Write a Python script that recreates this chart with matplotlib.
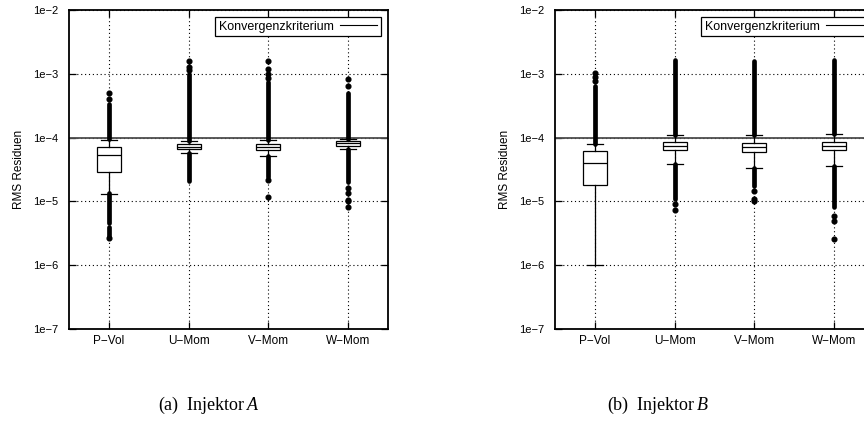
import matplotlib
matplotlib.use('Agg')
import matplotlib.pyplot as plt
from matplotlib.ticker import FixedLocator, FixedFormatter, NullLocator

plt.rcParams['font.family'] = 'Liberation Sans'
plt.rcParams['mathtext.fontset'] = 'custom'
plt.rcParams['mathtext.rm'] = 'Liberation Serif'
plt.rcParams['mathtext.it'] = 'Liberation Serif:italic'

# Daten
labels = ['P\u2212Vol', 'U\u2212Mom', 'V\u2212Mom', 'W\u2212Mom']
ytick_vals = [1e-7, 1e-6, 1e-5, 1e-4, 1e-3, 1e-2]
ytick_labels = ['1e\u22127', '1e\u22126', '1e\u22125', '1e\u22124', '1e\u22123', '1e\u22122']
konvergenz = 1e-4

# Injektor A
a_q1 = [2.93e-5, 6.6e-5, 6.3e-5, 7.3e-5]
a_med = [5.3e-5, 7.2e-5, 7.05e-5, 8.3e-5]
a_q3 = [7.2e-5, 7.9e-5, 7.9e-5, 9.0e-5]
a_whislo = [1.31e-5, 5.7e-5, 5.2e-5, 6.6e-5]
a_whishi = [9.2e-5, 9.0e-5, 9.2e-5, 9.5e-5]
# dichte Ausreisser-Bereiche (von, bis)
a_runs = [[(9.5e-5, 3.37e-4), (4.6e-6, 1.35e-5), (2.9e-6, 4.0e-6)],
          [(9.0e-5, 1.0e-3), (2.12e-5, 5.7e-5)],
          [(9.2e-5, 7.4e-4), (2.39e-5, 5.2e-5)],
          [(9.5e-5, 4.94e-4), (2.0e-5, 6.6e-5)]]
# einzelne Ausreisser
a_fliers = [[5.0e-4, 4.08e-4, 2.64e-6],
            [1.61e-3, 1.30e-3, 1.15e-3],
            [1.58e-3, 1.21e-3, 1.0e-3, 8.6e-4, 2.2e-5, 1.16e-5],
            [8.3e-4, 6.4e-4, 1.63e-5, 1.34e-5, 1.07e-5, 1.0e-5, 8.3e-6]]

# Injektor B
b_q1 = [1.81e-5, 6.5e-5, 6.0e-5, 6.4e-5]
b_med = [3.96e-5, 7.5e-5, 7.05e-5, 7.5e-5]
b_q3 = [6.25e-5, 8.65e-5, 8.35e-5, 8.65e-5]
b_whislo = [1.0e-6, 3.9e-5, 3.3e-5, 3.55e-5]
b_whishi = [7.8e-5, 1.11e-4, 1.1e-4, 1.14e-4]
b_runs = [[(7.8e-5, 6.5e-4)],
          [(1.11e-4, 1.65e-3), (1.09e-5, 3.9e-5)],
          [(1.1e-4, 1.58e-3), (1.77e-5, 3.3e-5)],
          [(1.14e-4, 1.65e-3), (8.1e-6, 3.55e-5)]]
b_fliers = [[1.02e-3, 9.0e-4, 7.6e-4],
            [9.1e-6, 7.4e-6],
            [1.48e-5, 1.1e-5, 1.0e-5],
            [5.8e-6, 5.0e-6, 2.58e-6]]

positions = [1, 2, 3, 4]


def panel(ax, q1, med, q3, lo, hi, runs, fliers):
    stats = []
    for i in range(4):
        stats.append(dict(med=med[i], q1=q1[i], q3=q3[i],
                          whislo=lo[i], whishi=hi[i], fliers=fliers[i]))
    ax.set_yscale('log')
    ax.axhline(konvergenz, color='0.3', lw=1.3, zorder=1.5,
               label='Konvergenzkriterium')
    ax.bxp(stats, positions=positions, widths=0.3, capwidths=0.2,
           patch_artist=True,
           boxprops=dict(facecolor='white', edgecolor='black', lw=0.9),
           medianprops=dict(color='black', lw=0.9),
           whiskerprops=dict(color='black', lw=0.9),
           capprops=dict(color='black', lw=0.9),
           flierprops=dict(marker='o', markersize=3.4, markerfacecolor='black',
                           markeredgecolor='black'),
           zorder=2)
    for i in range(4):
        for r in runs[i]:
            ax.vlines(positions[i], r[0], r[1], color='black', lw=3.4,
                      capstyle='round', zorder=3)

    ax.set_xlim(0.5, 4.5)
    ax.set_ylim(1e-7, 1e-2)
    ax.yaxis.set_major_locator(FixedLocator(ytick_vals))
    ax.yaxis.set_major_formatter(FixedFormatter(ytick_labels))
    ax.yaxis.set_minor_locator(NullLocator())
    ax.set_xticks(positions)
    ax.set_xticklabels(labels)
    ax.tick_params(axis='both', which='major', direction='in', length=5,
                   width=0.9, top=True, right=True)
    ax.tick_params(axis='y', labelsize=8, pad=8)
    ax.tick_params(axis='x', labelsize=8.5, pad=4)
    ax.grid(True, linestyle=(0, (1, 2.5)), color='black', lw=0.8)
    ax.set_axisbelow(True)
    for s in ax.spines.values():
        s.set_linewidth(1.3)
    ax.set_ylabel('RMS Residuen', fontsize=8.5)
    ax.yaxis.set_label_coords(-0.138, 0.5)
    leg = ax.legend(loc='upper right', markerfirst=False, fancybox=False,
                    edgecolor='black', framealpha=1, fontsize=9,
                    borderaxespad=0.55, handlelength=3.0, handletextpad=0.5,
                    borderpad=0.3)
    leg.get_frame().set_linewidth(0.9)
    leg.legend_handles[0].set_color('black')
    leg.legend_handles[0].set_linewidth(0.8)


fig = plt.figure(figsize=(8.64, 4.23), dpi=100)
ax1 = fig.add_axes([69 / 864, 1 - 329 / 423, 319 / 864, 319 / 423])
ax2 = fig.add_axes([555 / 864, 1 - 329 / 423, 319 / 864, 319 / 423])

panel(ax1, a_q1, a_med, a_q3, a_whislo, a_whishi, a_runs, a_fliers)
panel(ax2, b_q1, b_med, b_q3, b_whislo, b_whishi, b_runs, b_fliers)

fig.text(209 / 864, 1 - 405 / 423, '(a)  Injektor$\\,A$', ha='center',
         va='center', fontsize=13, family='Liberation Serif')
fig.text(658 / 864, 1 - 405 / 423, '(b)  Injektor$\\,B$', ha='center',
         va='center', fontsize=13, family='Liberation Serif')

fig.savefig('out.png', dpi=100)
